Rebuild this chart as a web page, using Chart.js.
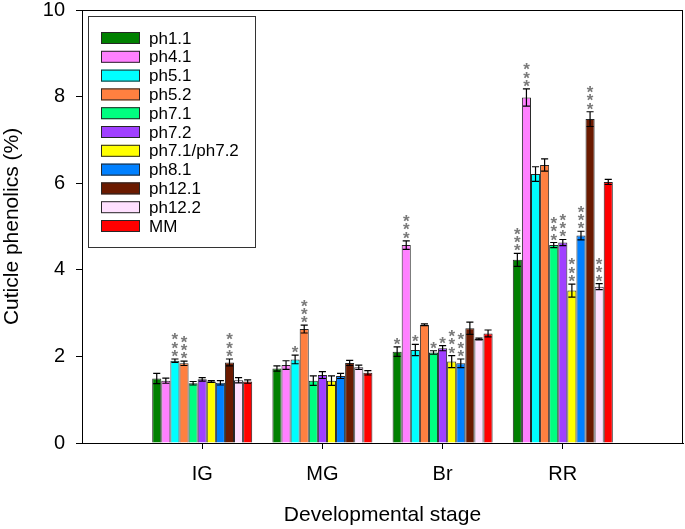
<!DOCTYPE html>
<html>
<head>
<meta charset="utf-8">
<script src="https://cdn.jsdelivr.net/npm/chart.js@4.4.1/dist/chart.umd.min.js"></script>
<style>
    html, body { margin: 0; padding: 0; background: #ffffff; }
    #wrap { width: 685px; height: 529px; }
</style>
</head>
<body>
<div id="wrap"><canvas id="c" width="685" height="529"></canvas></div>
<script>
/* ---- data ---- */

var STAGES = ['IG', 'MG', 'Br', 'RR'];
var LINES  = ['ph1.1', 'ph4.1', 'ph5.1', 'ph5.2', 'ph7.1', 'ph7.2',
              'ph7.1/ph7.2', 'ph8.1', 'ph12.1', 'ph12.2', 'MM'];

// means, one value per line, in LINES order
var IG_MEAN = [1.49, 1.44, 1.90, 1.84, 1.38, 1.47, 1.42, 1.39, 1.86, 1.45, 1.42];
var MG_MEAN = [1.72, 1.80, 1.93, 2.63, 1.44, 1.57, 1.44, 1.55, 1.85, 1.75, 1.62];
var BR_MEAN = [2.11, 4.57, 2.15, 2.73, 2.09, 2.19, 1.88, 1.84, 2.65, 2.40, 2.53];
var RR_MEAN = [4.23, 7.98, 6.21, 6.42, 4.57, 4.63, 3.52, 4.79, 7.48, 3.61, 6.03];

// standard errors
var IG_ERR = [0.12, 0.06, 0.04, 0.05, 0.04, 0.04, 0.02, 0.05, 0.08, 0.06, 0.04];
var MG_ERR = [0.06, 0.10, 0.10, 0.09, 0.11, 0.08, 0.11, 0.06, 0.06, 0.05, 0.05];
var BR_ERR = [0.11, 0.10, 0.13, 0.02, 0.04, 0.06, 0.14, 0.10, 0.14, 0.02, 0.08];
var RR_ERR = [0.15, 0.20, 0.17, 0.14, 0.06, 0.07, 0.15, 0.10, 0.17, 0.07, 0.06];

// significance marks
var IG_SIG = ['', '', '***', '***', '', '', '', '', '***', '', ''];
var MG_SIG = ['', '', '*', '***', '', '', '', '', '', '', ''];
var BR_SIG = ['*', '***', '*', '', '*', '*', '***', '***', '', '', ''];
var RR_SIG = ['***', '***', '', '', '***', '***', '***', '***', '***', '***', ''];

var Y_TICKS = [0, 2, 4, 6, 8, 10];

/* ---- style ---- */

var COLORS = ['#008000', '#ff80ff', '#00ffff', '#ff8040', '#00ff80', '#a040ff',
              '#ffff00', '#0080ff', '#6b1a00', '#ffe0ff', '#ff0000'];
var FAMILY = "'Liberation Sans', Arial, sans-serif";

var MEANS = [IG_MEAN, MG_MEAN, BR_MEAN, RR_MEAN];
var ERRS  = [IG_ERR, MG_ERR, BR_ERR, RR_ERR];
var SIGS  = [IG_SIG, MG_SIG, BR_SIG, RR_SIG];

// empty slot either side so the groups sit where the original axis put them
var LABELS = [''].concat(STAGES, ['']);

var datasets = LINES.map(function (name, i) {
    return {
        label: name,
        data: [null].concat(MEANS.map(function (m) { return m[i]; }), [null]),
        backgroundColor: COLORS[i],
        borderColor: '#262626',
        borderWidth: 1,
        categoryPercentage: 0.832,
        barPercentage: 1.0
    };
});

/* ---- plugins ---- */

var framePlugin = {
    id: 'frame',
    afterDraw: function (chart) {
        var a = chart.chartArea, ctx = chart.ctx;
        ctx.save();
        ctx.strokeStyle = '#000';
        ctx.lineWidth = 1;
        ctx.strokeRect(a.left + 0.5, a.top + 0.5, a.right - a.left - 1, a.bottom - a.top);
        ctx.restore();
    }
};

var errorPlugin = {
    id: 'errors',
    afterDatasetsDraw: function (chart) {
        var ctx = chart.ctx, y = chart.scales.y;
        ctx.save();
        chart.data.datasets.forEach(function (ds, i) {
            var meta = chart.getDatasetMeta(i);
            meta.data.forEach(function (bar, j) {
                var g = j - 1;
                if (g < 0 || g >= STAGES.length) return;
                var v = MEANS[g][i], e = ERRS[g][i];
                var yt = y.getPixelForValue(v + e);
                var yb = y.getPixelForValue(v - e);
                var half = bar.width / 2 - 1;
                ctx.strokeStyle = '#000';
                ctx.lineWidth = 1.2;
                ctx.beginPath();
                ctx.moveTo(bar.x, yt); ctx.lineTo(bar.x, yb);
                ctx.moveTo(bar.x - half, yt); ctx.lineTo(bar.x + half, yt);
                ctx.moveTo(bar.x - half, yb); ctx.lineTo(bar.x + half, yb);
                ctx.stroke();

                var n = SIGS[g][i].length;
                ctx.fillStyle = '#7a7a7a';
                ctx.font = 'bold 17px ' + FAMILY;
                ctx.textAlign = 'center';
                ctx.textBaseline = 'alphabetic';
                for (var k = 0; k < n; k++) {
                    var cy = yt - 7 - k * 8.3;
                    ctx.fillText('*', bar.x, cy + 10);
                }
            });
        });
        ctx.restore();
    }
};

var legendPlugin = {
    id: 'boxLegend',
    afterDraw: function (chart) {
        var ctx = chart.ctx;
        ctx.save();
        ctx.strokeStyle = '#333';
        ctx.lineWidth = 1;
        ctx.strokeRect(88.5, 16.5, 167, 231);
        ctx.font = '17px ' + FAMILY;
        ctx.textAlign = 'left';
        ctx.textBaseline = 'middle';
        LINES.forEach(function (name, i) {
            var cy = 38 + i * 18.8;
            ctx.fillStyle = COLORS[i];
            ctx.fillRect(101, cy - 6, 39, 12);
            ctx.strokeStyle = '#262626';
            ctx.strokeRect(101.5, cy - 5.5, 38, 11);
            ctx.fillStyle = '#000';
            ctx.fillText(name, 149, cy + 1);
        });
        ctx.restore();
    }
};

/* ---- chart ---- */

new Chart(document.getElementById('c').getContext('2d'), {
    type: 'bar',
    data: { labels: LABELS, datasets: datasets },
    options: {
        responsive: false,
        animation: false,
        events: [],
        layout: { padding: { top: 10, right: 2, left: 0, bottom: 0 } },
        plugins: {
            legend:  { display: false },
            tooltip: { enabled: false }
        },
        scales: {
            x: {
                offset: false,
                grid: {
                    offset: false,
                    drawOnChartArea: false,
                    tickLength: 6,
                    color: function (c) {
                        return (c.index === 0 || c.index === LABELS.length - 1) ? 'rgba(0,0,0,0)' : '#000';
                    }
                },
                border: { color: '#000', width: 1 },
                ticks: {
                    color: '#000',
                    font: { family: FAMILY, size: 20 },
                    padding: 13,
                    maxRotation: 0,
                    autoSkip: false
                },
                title: {
                    display: true,
                    text: 'Developmental stage',
                    color: '#000',
                    font: { family: FAMILY, size: 21 },
                    padding: { top: 0, bottom: 1 }
                },
                afterFit: function (s) {
                    s.height = 86;
                    s.paddingLeft = 0;
                    s.paddingRight = 0;
                }
            },
            y: {
                min: 0,
                max: 10,
                afterBuildTicks: function (s) {
                    s.ticks = Y_TICKS.map(function (v) { return { value: v }; });
                },
                grid: { drawOnChartArea: false, tickLength: 6, color: '#000' },
                border: { color: '#000', width: 1 },
                ticks: {
                    color: '#000',
                    font: { family: FAMILY, size: 20, lineHeight: 1.0 },
                    padding: 11
                },
                title: {
                    display: true,
                    text: 'Cuticle phenolics (%)',
                    color: '#000',
                    font: { family: FAMILY, size: 21 },
                    padding: { top: 0, bottom: 0 }
                },
                afterFit: function (s) {
                    s.width = 82;
                    s.paddingTop = 0;
                    s.paddingBottom = 0;
                }
            }
        }
    },
    plugins: [framePlugin, errorPlugin, legendPlugin]
});
</script>
</body>
</html>
